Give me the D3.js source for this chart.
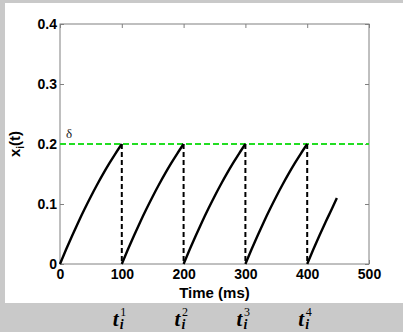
<!DOCTYPE html>
<html><head><meta charset="utf-8">
<script src="https://cdn.jsdelivr.net/npm/d3@7"></script>
<style>body{margin:0;background:#c9c9c9;}svg{display:block;}</style>
</head><body>
<svg id="c" width="403" height="332"></svg>
<script>
// Data
const xTicks = [0, 100, 200, 300, 400, 500];
const yTicks = [0, 0.1, 0.2, 0.3, 0.4];
const yTickLabels = ["0", "0.1", "0.2", "0.3", "0.4"];
const threshold = 0.2;
const spikeTimes = [100, 200, 300, 400];
const spikeLabels = ["1", "2", "3", "4"];
// cycles: time offsets within a cycle and state values
const cycleOffsets = [0, 10, 20, 30, 40, 50, 60, 70, 80, 90, 100];
const cycleValues = [0, 0.0245, 0.048, 0.0705, 0.092, 0.1125, 0.132, 0.1505, 0.168, 0.1845, 0.2];
const cycleStarts = [0, 100, 200, 300];
const lastStart = 400;
const lastOffsets = [0, 10, 20, 30, 40, 48];
const lastValues = [0, 0.0245, 0.048, 0.0705, 0.092, 0.11];

const svg = d3.select("#c");
// white panel
svg.append("rect").attr("x",5).attr("y",3).attr("width",398).attr("height",300).attr("fill","#fff");

const L=60,R=369,T=24,B=264;
const x = d3.scaleLinear().domain([0,500]).range([L,R]);
const y = d3.scaleLinear().domain([0,0.4]).range([B,T]);

// frame
svg.append("rect").attr("x",L).attr("y",T).attr("width",R-L).attr("height",B-T)
  .attr("fill","none").attr("stroke","#808080").attr("stroke-width",1);

// ticks inside on all sides
const gx = svg.append("g").attr("transform",`translate(0,${B})`)
  .call(d3.axisBottom(x).tickValues(xTicks).tickSize(-4).tickPadding(5).tickFormat(d3.format("d")));
const gxTop = svg.append("g").attr("transform",`translate(0,${T})`)
  .call(d3.axisTop(x).tickValues(xTicks).tickSize(-4).tickFormat(""));
const gy = svg.append("g").attr("transform",`translate(${L},0)`)
  .call(d3.axisLeft(y).tickValues(yTicks).tickSize(-4).tickPadding(3).tickFormat((d,i)=>yTickLabels[i]));
const gyR = svg.append("g").attr("transform",`translate(${R},0)`)
  .call(d3.axisRight(y).tickValues(yTicks).tickSize(-4).tickFormat(""));
[gx,gxTop,gy,gyR].forEach(g=>{
  g.select(".domain").remove();
  g.selectAll(".tick line").attr("stroke","#808080");
  g.selectAll("text").attr("fill","#000").attr("font-family","Liberation Sans, Arial, sans-serif")
    .attr("font-weight","bold").attr("font-size",14);
});
gy.selectAll("text").attr("dy","0.35em");

// threshold line
svg.append("line").attr("x1",x(0)).attr("x2",x(500)).attr("y1",y(threshold)).attr("y2",y(threshold))
  .attr("stroke","#22dd22").attr("stroke-width",2).attr("stroke-dasharray","6,3");
svg.append("text").attr("x",x(0)+6).attr("y",y(threshold)-6).text("δ")
  .attr("font-family","Liberation Serif, Times New Roman, serif").attr("font-size",13).attr("fill","#222");

// vertical dashed reset lines
svg.selectAll(".vl").data(spikeTimes).enter().append("line")
  .attr("x1",d=>x(d)).attr("x2",d=>x(d)).attr("y1",y(threshold)).attr("y2",y(0))
  .attr("stroke","#000").attr("stroke-width",2).attr("stroke-dasharray","5,3");

// curves
const line = d3.line().x(d=>x(d[0])).y(d=>y(d[1])).curve(d3.curveMonotoneX);
cycleStarts.forEach(s=>{
  svg.append("path").datum(cycleOffsets.map((o,i)=>[s+o,cycleValues[i]]))
    .attr("d",line).attr("fill","none").attr("stroke","#000").attr("stroke-width",2.4);
});
svg.append("path").datum(lastOffsets.map((o,i)=>[lastStart+o,lastValues[i]]))
  .attr("d",line).attr("fill","none").attr("stroke","#000").attr("stroke-width",2.4);

// axis labels
svg.append("text").attr("x",(L+R)/2).attr("y",298).attr("text-anchor","middle")
  .attr("font-family","Liberation Sans, Arial, sans-serif").attr("font-weight","bold").attr("font-size",15)
  .text("Time (ms)");
const yl = svg.append("text").attr("transform",`translate(20,${(T+B)/2}) rotate(-90)`)
  .attr("text-anchor","middle").attr("font-family","Liberation Sans, Arial, sans-serif")
  .attr("font-weight","bold").attr("font-size",15);
yl.append("tspan").text("x");
yl.append("tspan").attr("dy",4).attr("font-size",10).text("i");
yl.append("tspan").attr("dy",-4).text("(t)");

// spike time labels below panel (one text element each)
spikeTimes.forEach((s,i)=>{
  const x0 = x(s)-9;
  const t = svg.append("text").attr("x",x0).attr("y",326)
    .attr("font-family","Liberation Serif, Times New Roman, serif");
  t.append("tspan").attr("font-style","italic").attr("font-weight","bold").attr("font-size",21).text("t");
  t.append("tspan").attr("x",x0+7.5).attr("y",316).attr("font-size",12).text(spikeLabels[i]);
  t.append("tspan").attr("x",x0+7).attr("y",329).attr("font-style","italic").attr("font-weight","bold")
    .attr("font-size",14).text("i");
});
</script>
</body></html>
